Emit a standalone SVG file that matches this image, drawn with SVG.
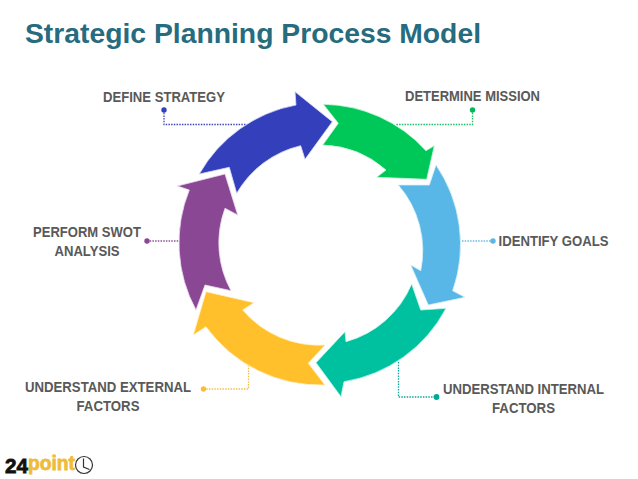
<svg xmlns="http://www.w3.org/2000/svg" width="638" height="479" viewBox="0 0 638 479">
<style>
text{font-family:"Liberation Sans",Arial,sans-serif;font-weight:bold}
.t{font-size:15.500px;fill:#595959;text-anchor:middle}
.a{stroke-width:.8;stroke-linejoin:miter}
.l{fill:none;stroke-width:1.300;stroke-dasharray:1.500 1.200}
</style>
<rect width="638" height="479" fill="#fff"/>
<text id="title" x="25" y="43" font-size="28" fill="#266b7e" textLength="456" lengthAdjust="spacingAndGlyphs">Strategic Planning Process Model</text>
<g id="connectors">
<path class="l" stroke="#3f47b8" d="M164 110V124.500H246"/>
<path class="l" stroke="#1fc06a" d="M472.500 110V124.500H396"/>
<path class="l" stroke="#6ab9e2" d="M462 241H493"/>
<path class="l" stroke="#10a99a" d="M398.500 362V397H436.500"/>
<path class="l" stroke="#f5c04a" d="M248.500 365V389H203.500"/>
<path class="l" stroke="#8a4f96" d="M147 241H180"/>
</g>
<g id="node-define-strategy">
<path class="a" fill="#333fbb" stroke="#d6d9f5" d="M199.300 174A141 141 0 0 1 296 105L295 91.700L332.300 121.700L305 159.300L300.700 145.700A100 100 0 0 0 236.700 193.300L229.300 167.300Z"/>
<circle cx="164" cy="110" r="2.700" fill="#333fbb"/>
<text class="t" x="164" y="101.500" textLength="122" lengthAdjust="spacingAndGlyphs">DEFINE STRATEGY</text>
</g>
<g id="node-determine-mission">
<path class="a" fill="#00c858" stroke="#c8f5dc" d="M323.300 104.300A141 141 0 0 1 426 150.700L434.300 145.700L426.700 179.300L376.700 177.300L386 170A100 100 0 0 0 322.700 145L338.300 123.300Z"/>
<circle cx="472.500" cy="110" r="2.700" fill="#00b85a"/>
<text class="t" x="472.500" y="100.500" textLength="135" lengthAdjust="spacingAndGlyphs">DETERMINE MISSION</text>
</g>
<g id="node-identify-goals">
<path class="a" fill="#58b7e6" stroke="#d8f0fa" d="M436 165A141 141 0 0 1 452.700 290.700L465 297.300L428.300 305L410.700 265L420.700 270.700A100 100 0 0 0 398.300 185L429.300 185Z"/>
<circle cx="493" cy="241" r="2.700" fill="#58b7e6"/>
<text class="t" x="553.500" y="246" textLength="110" lengthAdjust="spacingAndGlyphs">IDENTIFY GOALS</text>
</g>
<g id="node-understand-internal">
<path class="a" fill="#00c19f" stroke="#c8f5ea" d="M446 308.300A141 141 0 0 1 344 381.700L341 396.700L316 362.700L345 331.700L346 341.700A100 100 0 0 0 411.700 284L420.700 310Z"/>
<circle cx="436.500" cy="397" r="2.900" fill="#00ab96"/>
<text class="t" x="523.500" y="393.500" textLength="161" lengthAdjust="spacingAndGlyphs">UNDERSTAND INTERNAL</text>
<text class="t" x="523.500" y="412.500" textLength="63" lengthAdjust="spacingAndGlyphs">FACTORS</text>
</g>
<g id="node-understand-external">
<path class="a" fill="#ffc02b" stroke="#fff0c8" d="M325 385A141 141 0 0 1 206 326.700L193.300 335L206 291.700L254 302.700L242.700 310A100 100 0 0 0 325 345L308.300 363.300Z"/>
<circle cx="203.500" cy="389" r="2.700" fill="#f9bd3a"/>
<text class="t" x="108" y="392" textLength="166" lengthAdjust="spacingAndGlyphs">UNDERSTAND EXTERNAL</text>
<text class="t" x="108" y="411" textLength="63" lengthAdjust="spacingAndGlyphs">FACTORS</text>
</g>
<g id="node-perform-swot">
<path class="a" fill="#8a4793" stroke="#eadcf0" d="M196 310A141 141 0 0 1 189.300 190L177.300 186L225 174L237.700 215L225 208.300A100 100 0 0 0 231 290.700L205 285Z"/>
<circle cx="147" cy="241" r="2.700" fill="#8a4793"/>
<text class="t" x="87" y="236.500" textLength="108" lengthAdjust="spacingAndGlyphs">PERFORM SWOT</text>
<text class="t" x="87" y="255.500" textLength="65" lengthAdjust="spacingAndGlyphs">ANALYSIS</text>
</g>
<g id="logo">
<text x="5" y="473" font-size="21" fill="#111" stroke="#111" stroke-width=".8" textLength="23" lengthAdjust="spacingAndGlyphs">24</text>
<text x="28" y="470" font-size="21" fill="#eebb3a" stroke="#eebb3a" stroke-width=".8" textLength="47" lengthAdjust="spacingAndGlyphs">point</text>
<circle cx="84" cy="465" r="8.500" fill="none" stroke="#333" stroke-width="1.200"/>
<path d="M83.500 458.500V467L89.500 469.500" fill="none" stroke="#333" stroke-width="1.200"/>
</g>
</svg>
